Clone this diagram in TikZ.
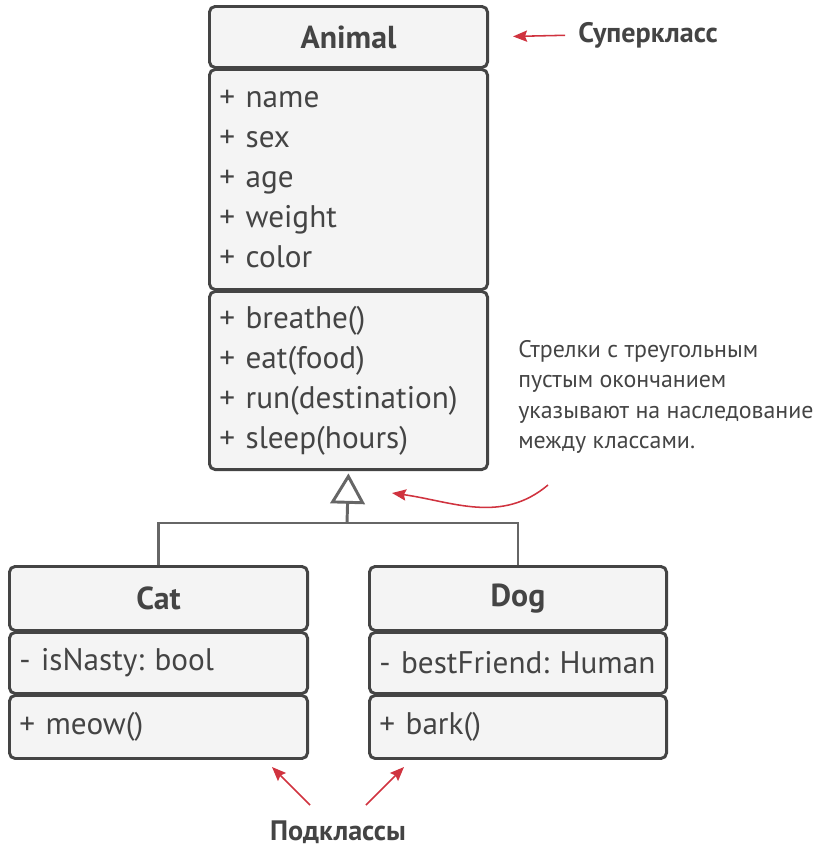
\documentclass[tikz,border=0pt]{standalone}
\usepackage{fontspec}
\setmainfont{PT Sans}
\usetikzlibrary{arrows.meta}
\definecolor{boxfill}{HTML}{F4F4F4}
\definecolor{boxline}{HTML}{444444}
\definecolor{inkgray}{HTML}{444444}
\definecolor{linkgray}{HTML}{666666}
\definecolor{notered}{HTML}{D0333F}
\frenchspacing
\newcommand{\umlfont}{\fontsize{22.2}{28.45}\selectfont}
\newcommand{\headfont}{\bfseries\fontsize{22.6}{26}\selectfont}
\newcommand{\labelfont}{\bfseries\fontsize{20}{24}\selectfont}
\newcommand{\notefont}{\fontsize{17}{21.7}\selectfont}
\tikzset{
  compart/.style = {draw=boxline, fill=boxfill, line width=2.1pt, rounded corners=4pt,
                    anchor=north west, inner xsep=0.25cm, inner ysep=0pt, text=inkgray},
  headbox/.style = {compart, align=center, font=\headfont},
  listbox/.style = {compart, align=left, font=\umlfont},
  inherit/.style = {draw=linkgray, line width=2.1pt},
  pointer/.style = {draw=notered, line width=1.1pt,
                    -{Stealth[length=10pt, width=8pt, inset=1.5pt]}},
  remark/.style  = {text=inkgray, inner sep=0pt},
}
\begin{document}
\begin{tikzpicture}[x=0.025cm, y=-0.025cm]
        \useasboundingbox (0,0) rectangle (818,849);
        \node[headbox, text width=6.45cm, minimum height=1.525cm] (animalhead) at (208,5)   {Animal};
        \node[listbox, text width=6.45cm, minimum height=5.5cm]   (animalattr) at (208,68)
              {+ name\\+ sex\\+ age\\+ weight\\+ color};
        \node[listbox, text width=6.45cm, minimum height=4.45cm]  (animalmeth) at (208,290)
              {+ breathe()\\+ eat(food)\\+ run(destination)\\+ sleep(hours)};
        \node[headbox, text width=6.95cm, minimum height=1.6cm]   (cathead)    at (8,565)   {Cat};
        \node[listbox, text width=6.95cm, minimum height=1.525cm] (catattr)    at (8,631)   {- isNasty: bool};
        \node[listbox, text width=6.95cm, minimum height=1.575cm] (catmeth)    at (8,694)   {+ meow()};
        \node[headbox, text width=6.925cm, minimum height=1.6cm]  (doghead)    at (368,565) {Dog};
        \node[listbox, text width=6.925cm, minimum height=1.525cm](dogattr)    at (368,631) {- bestFriend: Human};
        \node[listbox, text width=6.925cm, minimum height=1.575cm](dogmeth)    at (368,694) {+ bark()};
        \coordinate (split) at (347,523);
        \draw[inherit] (cathead.north) |- (split) -| (doghead.north);
        \draw[inherit, shorten >=0.06cm, -{Triangle[open, length=0.76cm, width=0.86cm]}] (split) -- (animalmeth.south);
        \node[remark, anchor=west, font=\labelfont] (superlabel) at (578,35) {Суперкласс};
        \draw[pointer, shorten <=0.32cm, shorten >=0.6cm] (superlabel.west) -- (animalhead.east);
        \node[remark, anchor=north west, align=left, font=\notefont] (remarknote) at (518,340)
              {Стрелки с треугольным\\пустым окончанием\\указывают на наследование\\между классами.};
        \coordinate (bendstart) at (548,485);
        \coordinate (bendtip)   at (392,493);
        \draw[pointer] (bendstart) to[out=-140, in=-8] (bendtip);
        \node[remark, font=\labelfont] (sublabel) at (338,832) {Подклассы};
        \coordinate (catfoot) at (310,805);
        \coordinate (dogfoot) at (366,805);
        \coordinate (cattip)  at (272,767);
        \coordinate (dogtip)  at (404,767);
        \draw[pointer] (catfoot) -- (cattip);
        \draw[pointer] (dogfoot) -- (dogtip);
\end{tikzpicture}
\end{document}
